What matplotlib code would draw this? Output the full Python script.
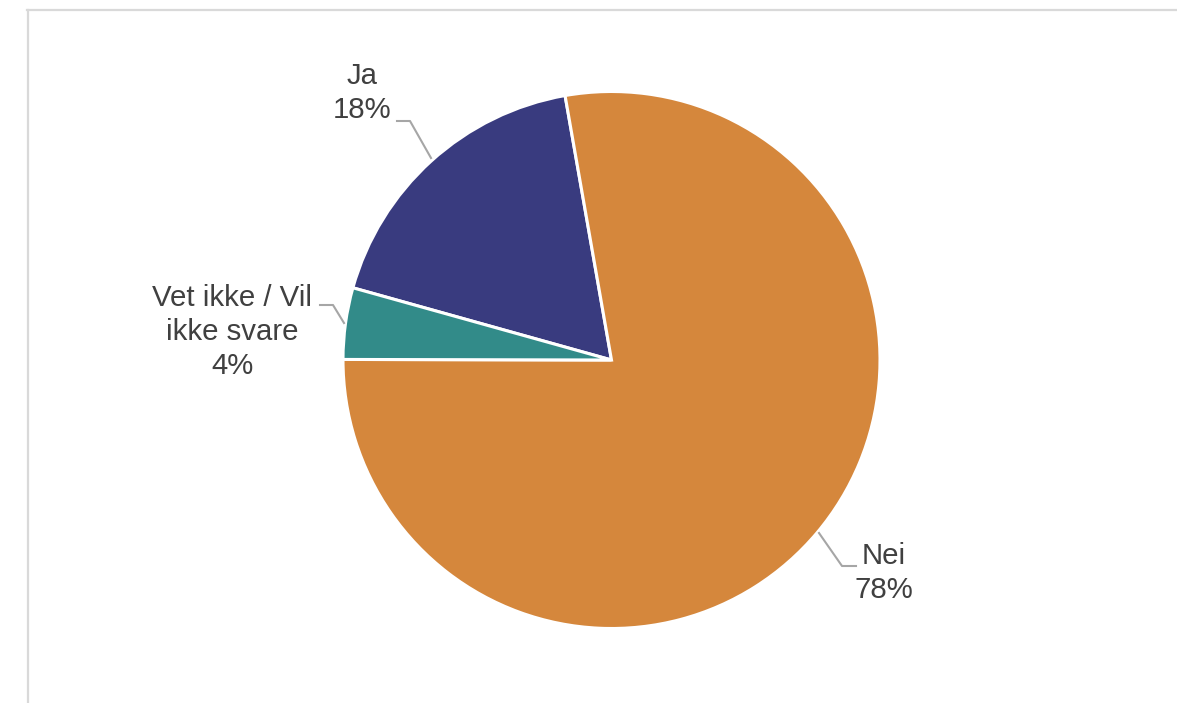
import matplotlib.pyplot as plt
from matplotlib.lines import Line2D

# data
labels = ["Ja", "Nei", "Vet ikke / Vil\nikke svare"]
shares = [17.9, 77.8, 4.3]
shown = ["18%", "78%", "4%"]
colors = ["#393B7F", "#D5873C", "#328B89"]

W, H = 1177, 703
cx, cy, R = 611.5, 360.0, 268.5

def to_data(px, py):
    return ((px - cx) / R, (cy - py) / R)

fig = plt.figure(figsize=(W / 100, H / 100), dpi=100)
ax = fig.add_axes([0, 0, 1, 1])
ax.pie(shares, colors=colors, startangle=164.4, counterclock=False, radius=1,
       wedgeprops=dict(edgecolor="white", linewidth=2.2))
ax.set_xlim(-cx / R, (W - cx) / R)
ax.set_ylim(-(H - cy) / R, cy / R)
ax.set_aspect("auto")
ax.axis("off")

# labels and leader lines
txt_pos = [(362, 93), (884, 573), (232, 332)]
leaders = [
    [(397, 121), (410, 121), (431, 158)],
    [(819, 533), (842, 566), (856, 566)],
    [(320, 305), (333, 305), (344, 323)],
]
for lab, pct, (tx, ty), pts in zip(labels, shown, txt_pos, leaders):
    x, y = to_data(tx, ty)
    ax.text(x, y, lab + "\n" + pct, ha="center", va="center", fontsize=21.2,
            color="#404040", family="Liberation Sans", linespacing=1.28)
    xs, ys = zip(*[to_data(px, py) for px, py in pts])
    ax.plot(xs, ys, color="#A6A6A6", lw=1.5)

# chart frame (partly cropped)
fig.add_artist(Line2D([27 / W, 1], [1 - 9.5 / H, 1 - 9.5 / H], color="#D9D9D9", lw=1.6,
                      transform=fig.transFigure))
fig.add_artist(Line2D([27.5 / W, 27.5 / W], [0, 1 - 9.5 / H], color="#D9D9D9", lw=1.6,
                      transform=fig.transFigure))

fig.savefig("out.png", dpi=100)
